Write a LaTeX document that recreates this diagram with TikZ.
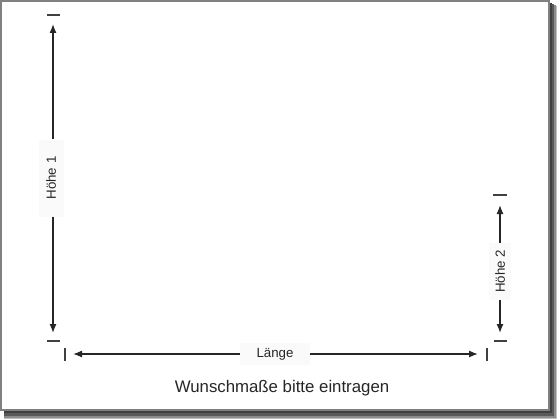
\documentclass[tikz,border=0pt]{standalone}
\usepackage{fontspec}
\setmainfont{Liberation Sans}
\usetikzlibrary{arrows.meta}
\begin{document}
\begin{tikzpicture}[x=1pt,y=-1pt,
  dimline/.style={line width=1.3pt, color=black!85, -{Latex[length=9pt,width=7pt]}},
  tickline/.style={line width=1.4pt, color=black!75},
  dimlabel/.style={font=\fontsize{13.3}{15}\selectfont, text=black!85, fill=black!2, inner sep=0pt},
  frame/.style={draw=black!50, line width=1.8pt, fill=white}]
\useasboundingbox (0,0) rectangle (560,420);
\fill[white] (0,0) rectangle (560,420);
% shadow
\fill[black!25] (4,6) rectangle (557,419);
\fill[black!45] (4,5) rectangle (555.5,417.5);
\fill[black!65] (4,4) rectangle (553.5,415.5);
\fill[black!75] (4,3) rectangle (551.5,413);
\draw[frame] (1,1) rectangle (549,410);
% Höhe 1
\node[dimlabel, rotate=90, minimum width=77pt, minimum height=25pt] (h1) at (51,178) {Höhe 1};
\coordinate (h1top) at (53,24);
\coordinate (h1bot) at (53,333);
\draw[dimline] (h1.east -| h1top) -- (h1top);
\draw[dimline] (h1.west -| h1bot) -- (h1bot);
\coordinate (t1a) at (47,15); \coordinate (t1b) at (60,15);
\draw[tickline] (t1a) -- (t1b);
\coordinate (t2a) at (47,341); \coordinate (t2b) at (60,341);
\draw[tickline] (t2a) -- (t2b);
% Höhe 2
\node[dimlabel, rotate=90, minimum width=57pt, minimum height=22pt] (h2) at (500,271.5) {Höhe 2};
\coordinate (h2top) at (500,205);
\coordinate (h2bot) at (500,333);
\draw[dimline] (h2.east -| h2top) -- (h2top);
\draw[dimline] (h2.west -| h2bot) -- (h2bot);
\coordinate (t3a) at (493,195); \coordinate (t3b) at (507,195);
\draw[tickline] (t3a) -- (t3b);
\coordinate (t4a) at (494,341); \coordinate (t4b) at (507,341);
\draw[tickline] (t4a) -- (t4b);
% Länge
\node[dimlabel, minimum width=70pt, minimum height=22pt] (l) at (275,354) {Länge};
\coordinate (lleft) at (73,354);
\coordinate (lright) at (478,354);
\draw[dimline] (l.west) -- (lleft);
\draw[dimline] (l.east) -- (lright);
\coordinate (t5a) at (65,348); \coordinate (t5b) at (65,361);
\draw[tickline] (t5a) -- (t5b);
\coordinate (t6a) at (487,348); \coordinate (t6b) at (487,361);
\draw[tickline] (t6a) -- (t6b);
% caption
\node[font=\fontsize{16.8}{19}\selectfont, text=black!85, inner sep=0pt] (cap) at (282,388) {Wunschmaße bitte eintragen};
\end{tikzpicture}
\end{document}
